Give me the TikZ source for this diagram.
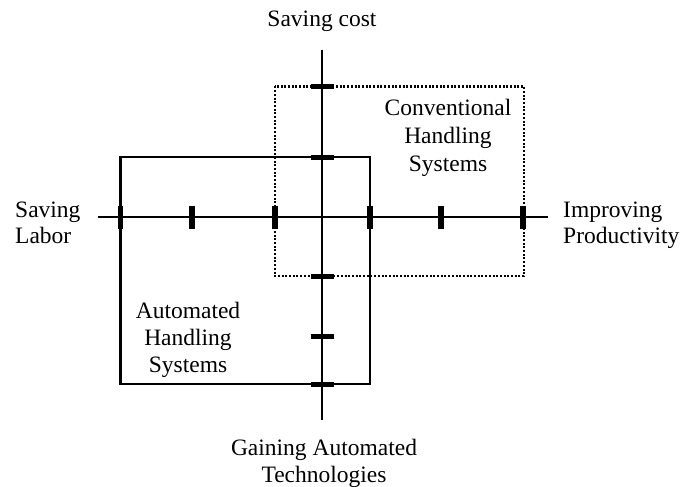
\documentclass[tikz,border=0pt]{standalone}
\usepackage{fontspec}
\setmainfont{Liberation Serif}
\begin{document}
\begin{tikzpicture}[x=1pt,y=-1pt,
  axisline/.style={line width=1.2pt,black},
  tickmark/.style={line width=5.5pt,black},
  solidbox/.style={line width=2.4pt,black},
  dotbox/.style={line width=2.6pt,black,dash pattern=on 2pt off 1.7pt},
  lbl/.style={font=\fontsize{23.5}{27}\selectfont,inner sep=0pt}]
\useasboundingbox (0,0) rectangle (694,487);

% axes
\coordinate (hl) at (98,217);
\coordinate (hr) at (548,217);
\coordinate (vt) at (322,50);
\coordinate (vb) at (322,420);
\draw[axisline] (hl) -- (hr);
\draw[axisline] (vt) -- (vb);

% the two regions
\coordinate (a1) at (120.5,157);
\coordinate (a2) at (370,384);
\coordinate (c1) at (275,86.5);
\coordinate (c2) at (524,276);
\draw[solidbox] (a1) rectangle (a2);
\draw[dotbox] (c1) rectangle (c2);

% tick marks on the horizontal axis
\foreach \tx in {120.5,192,275,370,441,523}
  \draw[tickmark] (\tx,205.5) -- (\tx,228.5);
% tick marks on the vertical axis
\foreach \ty in {86.5,157,276,336.5,384}
  \draw[tickmark,line width=5pt] (310.5,\ty) -- (333.5,\ty);

% labels (base anchor = baseline of the last line)
\node[lbl,anchor=base] (top) at (322,27) {Saving cost};
\node[lbl,anchor=base west,align=left,font=\fontsize{23.5}{26}\selectfont] (left) at (15,243) {Saving\\Labor};
\node[lbl,anchor=base west,align=left,font=\fontsize{23.5}{26}\selectfont] (right) at (563,243) {Improving\\Productivity};
\node[lbl,anchor=base,align=center] (bottom) at (324,482.5) {Gaining Automated\\Technologies};
\node[lbl,anchor=base,align=center,font=\fontsize{23.5}{28}\selectfont] (conv) at (448,171) {Conventional\\Handling\\Systems};
\node[lbl,anchor=base,align=center] (auto) at (188,372) {Automated\\Handling\\Systems};
\end{tikzpicture}
\end{document}
